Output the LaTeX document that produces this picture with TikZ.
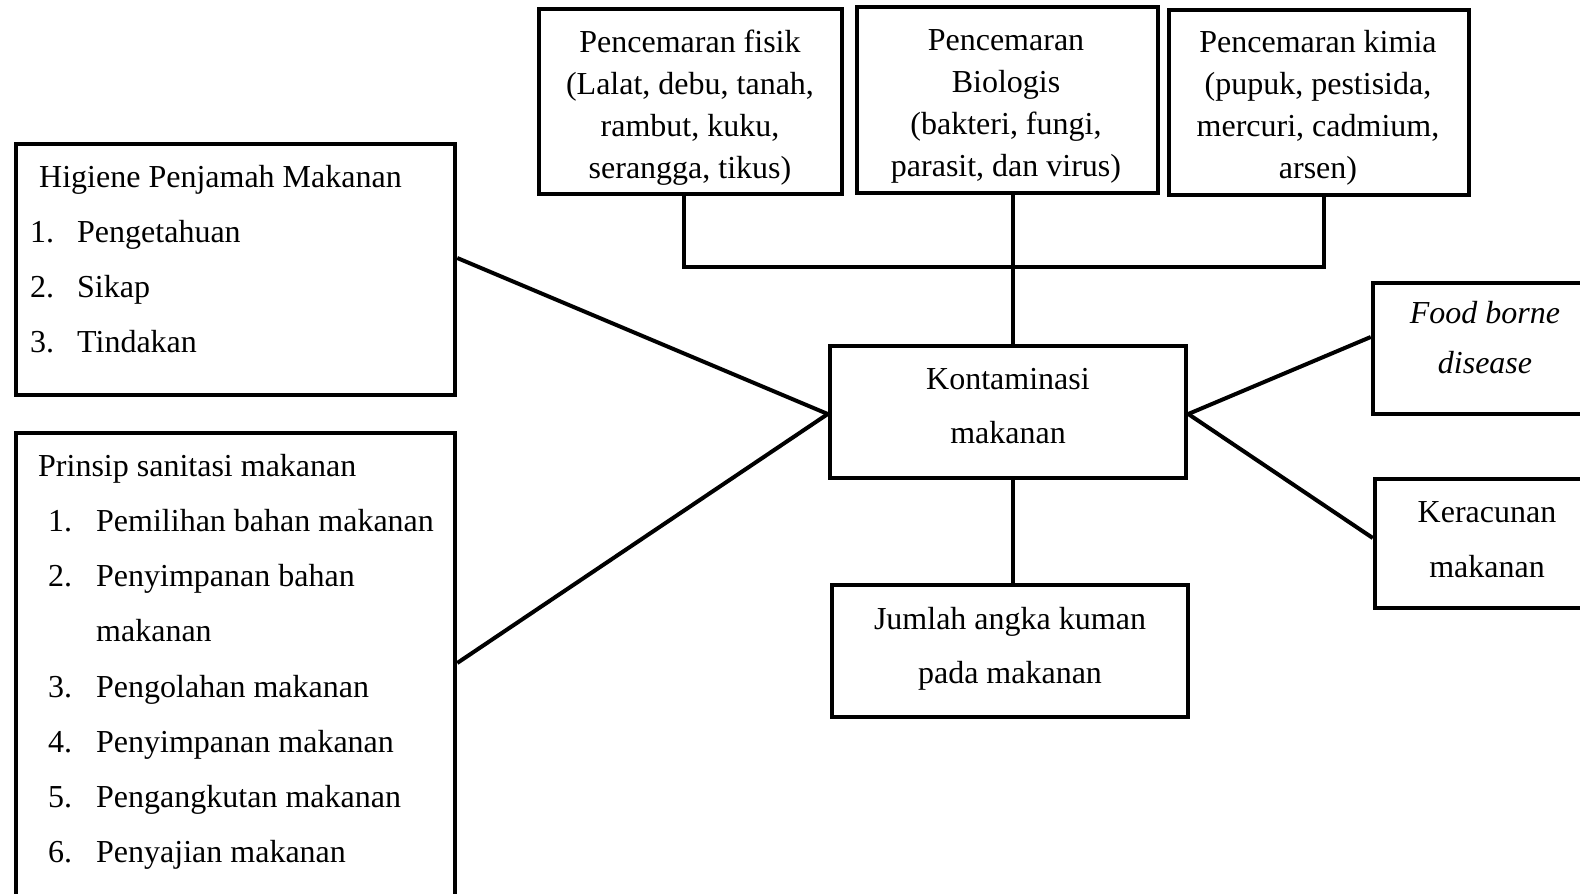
\documentclass[tikz,border=0pt]{standalone}
\usepackage{fontspec}
\setmainfont{Liberation Serif}
\tikzset{
  box/.style={draw, rectangle, line width=4.5pt, inner sep=0pt},
  lbl/.style={align=center, anchor=base, inner sep=0pt, font=\fontsize{32}{54}\selectfont},
  toplbl/.style={lbl, font=\fontsize{32}{42.2}\selectfont},
  item/.style={anchor=base west, inner sep=0pt, font=\fontsize{32}{54}\selectfont},
  link/.style={line width=4pt},
  bus/.style={line width=3.5pt}
}
\begin{document}
\begin{tikzpicture}[x=1pt, y=-1pt]
  \useasboundingbox (0,0) rectangle (1580,894);
  \clip (0,0) rectangle (1580,894);
  % three kinds of pollution on top (text placed by its last baseline)
  \node[box, minimum width=303pt, minimum height=185pt] (fisik) at (690.5,101.5) {};
  \node[box, minimum width=301pt, minimum height=186pt] (bio) at (1007.5,100) {};
  \node[box, minimum width=300pt, minimum height=185pt] (kimia) at (1319,102.5) {};
  \node[toplbl] (fisikTxt) at (690,178.6) {Pencemaran fisik\\(Lalat, debu, tanah,\\rambut, kuku,\\serangga, tikus)};
  \node[toplbl] (bioTxt) at (1006,176.6) {Pencemaran\\Biologis\\(bakteri, fungi,\\parasit, dan virus)};
  \node[toplbl] (kimiaTxt) at (1318,178.6) {Pencemaran kimia\\(pupuk, pestisida,\\mercuri, cadmium,\\arsen)};
  % centre and result boxes
  \node[box, minimum width=356pt, minimum height=132pt] (konta) at (1008,412) {};
  \node[lbl] (kontaTxt) at (1008,443) {Kontaminasi\\makanan};
  \node[box, minimum width=356pt, minimum height=132pt] (jumlah) at (1010,651) {};
  \node[lbl] (jumlahTxt) at (1010,683) {Jumlah angka kuman\\pada makanan};
  \node[box, minimum width=227pt, minimum height=131pt] (food) at (1486.5,348.5) {};
  \node[lbl, font=\fontsize{32}{50}\selectfont\itshape] (foodTxt) at (1485,373) {Food borne\\disease};
  \node[box, minimum width=225pt, minimum height=129pt] (kera) at (1487.5,543.5) {};
  \node[lbl, font=\fontsize{32}{55}\selectfont] (keraTxt) at (1487,577) {Keracunan\\makanan};
  % left boxes with lists
  \node[box, minimum width=439pt, minimum height=251pt] (higiene) at (235.5,269.5) {};
  \node[item] (higTitle) at (39,187) {Higiene Penjamah Makanan};
  \foreach \i/\txt in {1/Pengetahuan, 2/Sikap, 3/Tindakan} {
    \pgfmathsetmacro{\ybase}{187+55.3*\i}
    \node[item] (higNum\i) at (30,\ybase) {\i.};
    \node[item] (higItem\i) at (77,\ybase) {\txt};
  }
  \node[box, minimum width=439pt, minimum height=517pt] (prinsip) at (235.5,691.5) {};
  \node[item] (prinTitle) at (38,476) {Prinsip sanitasi makanan};
  \foreach \n/\k/\txt in {1/1/Pemilihan bahan makanan, 2/2/Penyimpanan bahan, 3/4/Pengolahan makanan,
      4/5/Penyimpanan makanan, 5/6/Pengangkutan makanan, 6/7/Penyajian makanan} {
    \pgfmathsetmacro{\ybase}{476+55.25*\k}
    \node[item] (prinNum\n) at (48,\ybase) {\n.};
    \node[item] (prinItem\n) at (96,\ybase) {\txt};
  }
  \node[item] (prinItemTwo) at (96,641.75) {makanan};
  % connectors
  \coordinate (bus) at (1013,267);
  \draw[bus] ([xshift=-6.5pt]fisik.south) |- (bus) -| ([xshift=5pt]kimia.south);
  \draw[link] ([xshift=5.5pt]bio.south) -- ([xshift=5pt]konta.north);
  \draw[link] ([xshift=5pt]konta.south) -- ([xshift=3pt]jumlah.north);
  \draw[link] ([yshift=11.5pt]higiene.east) -- ([yshift=-2pt]konta.west);
  \draw[link] ([yshift=28.5pt]prinsip.east) -- ([yshift=-2pt]konta.west);
  \draw[link] ([yshift=-2pt]konta.east) -- ([yshift=11.5pt]food.west);
  \draw[link] ([yshift=-2pt]konta.east) -- ([yshift=5.5pt]kera.west);
\end{tikzpicture}
\end{document}
